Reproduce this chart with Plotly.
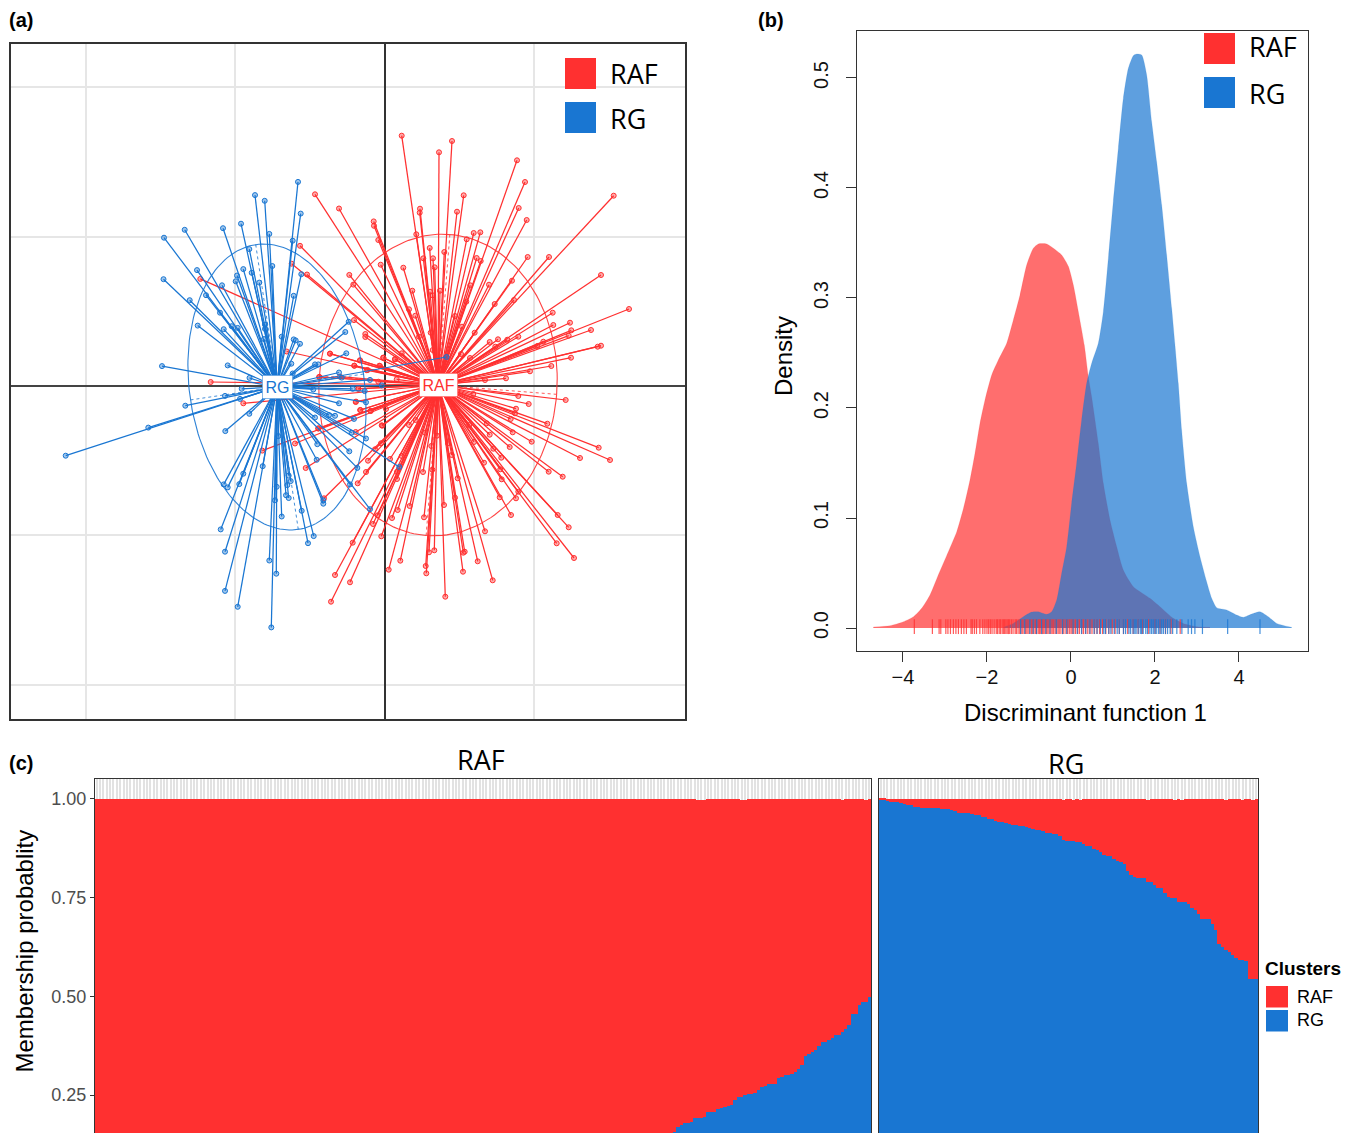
import numpy as np
import plotly.graph_objects as go

RED = "#FF3030"
BLUE = "#1976D2"
W, H = 1353, 1133
TXT = "Liberation Sans"
HUM = "Open Sans"

# ---------- panel (a): scores on the two discriminant axes ----------
rg_centre = [-107.5, -1.0]
raf_centre = [53.5, 1.0]
rg_x = [-318.8,-236.2,-199.2,-159.5,-142.8,-144.5,-222.5,-156.8,-135.0,-221.0,-186.8,-194.8,-220.5,-199.8,-187.5,-178.5,-162.5,-164.5,-160.8,-152.8,-146.8,-161.5,-143.5,-129.5,-119.8,-86.5,-83.8,-115.2,-91.8,-135.2,-112.2,-141.2,-132.8,-147.5,-148.8,-125.2,-83.2,-90.8,-119.5,-119.5,-120.5,-102.8,-90.8,-88.8,-84.5,-93.2,-91.8,-69.5,-66.2,-38.2,-39.2,-35.8,-45.5,-42.8,-14.5,-31.8,-19.8,-2.8,-18.5,-45.5,-71.2,-69.5,-55.5,-49.5,-30.5,-18.5,-32.8,-67.2,-35.2,-67.8,-27.2,-34.5,-14.5,-61.2,-61.2,-82.8,-70.8,-76.5,-95.8,-93.8,-97.2,-98.5,-95.8,-102.8,-107.8,-109.5,-106.2,-121.8,-141.2,-145.2,-156.8,-160.8,-163.8,-159.5,-159.5,-146.8,-115.2,-108.2,-113.2,-135.2,-159.2,14.8,62.0]
rg_y = [-69.7,-41.6,-19.7,-9.9,-2.8,-12.9,19.9,20.6,8.1,106.8,60.4,85.8,148.3,156.2,115.9,90.8,100.7,73.3,56.8,59.8,58.1,157.8,162.3,190.9,185.2,204.1,172.4,152.1,145.3,136.9,120.0,116.9,113.2,110.5,104.7,103.4,111.8,90.2,61.4,57.1,46.9,49.3,46.6,45.6,42.2,22.3,12.5,21.6,21.6,32.7,54.0,64.2,13.5,8.4,6.1,-2.8,-5.1,0.6,-16.3,-17.3,-3.5,-31.5,-29.1,-29.8,-32.9,-52.5,-46.7,-58.2,-65.3,-73.8,-81.9,-98.4,-123.2,-114.3,-117.7,-124.8,-150.1,-157.2,-89.7,-95.1,-99.1,-109.2,-112.0,-130.5,-100.8,-114.3,-50.1,-80.2,-87.7,-98.1,-101.4,-98.4,-143.4,-165.7,-204.9,-220.8,-174.5,-187.7,-241.4,-27.8,-45.1,-81.0,29.0]
raf_x = [17.2,67.5,54.5,132.5,140.5,229.2,79.2,134.2,72.5,35.5,35.2,142.2,89.2,95.8,31.8,82.2,45.2,59.8,143.2,164.5,38.8,48.5,92.2,96.2,50.2,18.8,216.5,127.5,104.5,85.8,27.8,45.5,55.5,48.2,129.5,81.8,110.2,244.5,24.5,30.8,70.5,168.2,168.8,185.5,186.8,206.5,184.2,77.5,90.2,46.2,34.5,105.2,113.5,122.8,133.8,110.8,158.8,152.8,216.5,213.2,186.5,166.8,145.5,121.5,100.5,76.5,85.5,48.2,17.2,10.5,-1.2,-4.5,12.2,-6.2,-16.8,-24.5,-30.2,-54.5,-65.2,-44.5,-26.2,-28.8,-24.2,-13.8,-2.2,-28.8,-66.2,-78.8,-60.5,-26.8,-18.5,-16.5,-9.5,-3.5,17.2,24.5,31.2,40.5,52.5,46.8,63.5,67.2,38.5,47.8,73.2,70.5,59.5,25.2,13.2,7.5,39.5,-6.8,-11.5,-3.2,-31.8,-49.5,-34.5,-53.5,4.2,15.8,41.2,41.8,44.5,49.8,60.8,78.8,80.2,78.5,93.2,108.2,100.5,126.5,115.2,131.5,133.8,117.2,115.8,99.5,116.8,108.8,89.5,125.2,105.2,128.2,102.2,84.8,147.2,126.2,130.5,131.5,162.8,144.2,133.8,88.8,181.2,214.2,225.5,195.5,164.2,178.2,173.2,184.2,172.2,189.5,-69.5,-45.5,-10.8,-10.5,-6.2,-3.8,-84.5,-92.8,-77.5,-35.2,-31.2,-30.5,-19.2,-19.2,-184.2,-54.5,-97.8,-30.2,-24.5,-5.2,-17.8,-1.2,10.5,-65.2,-173.8,-26.2,-141.2,-28.5,-24.2,-13.8,1.5,-2.8,-66.2,-89.5,-122.2,5.5,12.5,12.5]
raf_y = [250.3,245.0,233.7,225.7,204.0,190.3,190.7,178.0,174.3,177.3,173.3,166.0,153.0,153.7,151.7,146.7,138.0,134.0,129.0,129.0,127.7,127.7,128.0,125.0,118.7,118.3,111.0,105.3,101.3,100.7,95.3,94.3,95.3,90.7,86.0,84.3,82.0,77.0,76.7,70.3,70.0,73.3,61.0,63.3,55.7,56.0,50.3,59.3,53.3,53.3,49.3,44.0,46.7,46.3,49.3,39.3,44.3,40.0,40.3,39.3,28.3,20.0,14.7,7.7,6.0,32.0,28.0,36.0,32.7,27.0,28.3,20.0,6.7,4.3,16.0,25.7,20.3,32.3,9.0,9.3,-2.7,-16.0,-24.0,-25.0,-39.7,-46.0,-42.3,-82.0,-112.3,-97.3,-86.0,-74.7,-63.3,-57.3,-70.0,-39.0,-34.0,-46.7,-49.7,-60.0,-57.3,-69.0,-86.0,-83.7,-92.3,-111.7,-119.0,-120.0,-124.0,-132.0,-131.3,-129.3,-138.0,-150.3,-156.7,-189.0,-196.3,-215.7,-183.7,-174.7,-180.0,-187.3,-166.3,-164.3,-210.7,-166.7,-165.7,-185.7,-175.3,-194.3,-145.3,-129.0,-111.3,-112.3,-105.7,-93.3,-83.3,-76.7,-71.7,-62.7,-56.0,-61.0,-48.7,-46.3,-37.3,-39.0,-55.7,-33.0,-27.3,-22.7,-37.7,-18.0,-10.0,-8.0,-14.0,-61.7,-74.0,-72.0,-85.7,-90.7,-129.0,-141.3,-157.3,-172.0,191.7,177.5,164.6,160.2,146.0,121.3,140.2,122.3,111.5,111.1,101.4,65.9,52.0,49.0,107.1,32.4,34.5,20.3,25.6,20.3,15.8,28.4,26.6,9.1,4.0,-2.8,-17.3,-15.6,-24.1,-24.8,-23.0,-39.3,-42.6,-57.5,-64.6,-73.0,-85.9,-93.0]
# ellipse: semi-major, semi-minor, tilt of the major axis from vertical (degrees, + = top to the left)
rg_ellipse = [144.0, 87.5, 8.5]
raf_ellipse = [151.0, 119.0, -4.5]
a_xgrid = [-298.6, -149.3, 149.3]
a_ygrid = [-298.6, -149.3, 149.3, 298.6]

# ---------- panel (b): densities and rugs ----------
raf_dens_x = [-4.706,-4.31,-3.99,-3.75,-3.555,-3.357,-3.16,-2.92,-2.72,-2.56,-2.405,-2.286,-2.167,-2.048,-1.888,-1.73,-1.531,-1.373,-1.214,-1.055,-0.897,-0.778,-0.579,-0.42,-0.222,-0.063,0.056,0.175,0.317,0.413,0.492,0.65,0.77,0.929,1.088,1.246,1.484,1.881,2.119,2.436,2.674,2.992,3.31]
raf_dens_y = [0.0009,0.0021,0.0057,0.0103,0.0179,0.03,0.0482,0.0694,0.0876,0.1088,0.1345,0.1588,0.1861,0.2073,0.23,0.2436,0.2588,0.28,0.3027,0.33,0.3452,0.3491,0.3491,0.3452,0.3391,0.3288,0.3118,0.2876,0.2573,0.2285,0.2103,0.1679,0.1315,0.0982,0.0739,0.0527,0.0376,0.027,0.0194,0.0088,0.0042,0.0012,0.0006]
rg_dens_x = [-1.611,-1.373,-1.135,-0.936,-0.778,-0.579,-0.46,-0.34,-0.222,-0.102,0.016,0.135,0.254,0.373,0.492,0.65,0.77,0.889,1.007,1.127,1.246,1.365,1.484,1.564,1.683,1.802,1.921,2.04,2.16,2.278,2.398,2.476,2.555,2.635,2.755,2.912,3.071,3.23,3.35,3.469,3.707,3.945,4.102,4.302,4.5,4.698,4.898,5.255]
rg_dens_y = [0.0006,0.0042,0.0103,0.0145,0.0148,0.0124,0.0148,0.0255,0.0497,0.0739,0.1134,0.1497,0.1891,0.2224,0.2406,0.2588,0.2876,0.336,0.3876,0.4361,0.4815,0.5088,0.5203,0.5218,0.5209,0.5027,0.4603,0.4239,0.3845,0.3391,0.2906,0.2573,0.2224,0.18,0.1315,0.0921,0.0648,0.0421,0.027,0.0185,0.0164,0.0118,0.0097,0.0127,0.0148,0.0103,0.0042,0.0006]
raf_rug = [-3.73,-3.30,-3.14,-3.10,-2.98,-2.93,-2.87,-2.80,-2.74,-2.68,-2.61,-2.55,-2.49,-2.38,-2.35,-2.30,-2.25,-2.17,-2.10,-2.05,-2.00,-1.96,-1.92,-1.88,-1.83,-1.78,-1.75,-1.71,-1.68,-1.64,-1.61,-1.58,-1.55,-1.52,-1.49,-1.46,-1.42,-1.38,-1.33,-1.30,-1.26,-1.22,-1.19,-1.16,-1.12,-1.08,-1.05,-1.02,-0.98,-0.94,-0.91,-0.88,-0.84,-0.82,-0.78,-0.75,-0.72,-0.68,-0.65,-0.62,-0.58,-0.55,-0.52,-0.48,-0.45,-0.42,-0.38,-0.35,-0.31,-0.28,-0.24,-0.2,-0.17,-0.12,-0.08,-0.04,0.0,0.03,0.07,0.11,0.16,0.2,0.26,0.3,0.35,0.4,0.45,0.5,0.56,0.62,0.68,0.75,0.83,0.9,0.98,1.05,1.15,1.25,1.35,1.48,1.6,1.7,1.85,2.0,2.12,2.25,2.38,2.6]
rg_rug = [-1.2,-1.1,-0.98,-0.9,-0.82,-0.7,-0.6,-0.5,-0.35,-0.2,-0.1,0.05,0.15,0.25,0.35,0.45,0.55,0.62,0.7,0.78,0.82,0.9,0.95,1.03,1.1,1.15,1.25,1.3,1.38,1.42,1.48,1.52,1.55,1.6,1.65,1.68,1.72,1.78,1.82,1.88,1.92,1.96,2.0,2.03,2.08,2.12,2.16,2.2,2.25,2.3,2.36,2.42,2.52,2.64,2.79,2.87,2.95,3.13,3.73,4.5]
b_xticks = [-4, -2, 0, 2, 4]
b_yticks = [0.0, 0.1, 0.2, 0.3, 0.4, 0.5]

# ---------- panel (c): membership probability of cluster RG per individual ----------
raf_group_rg = [
 0.000,
 0.000,0.000,0.000,0.000,0.000,0.000,0.000,0.000,0.000,0.000,
 0.001,0.001,0.001,0.001,0.001,0.001,0.001,0.001,0.001,0.001,
 0.002,0.002,0.002,0.002,0.002,0.002,0.003,0.003,0.003,0.003,
 0.004,0.004,0.004,0.005,0.005,0.005,0.006,0.006,0.006,0.007,
 0.007,0.008,0.008,0.009,0.009,0.010,0.010,0.011,0.011,0.012,
 0.013,0.013,0.014,0.015,0.015,0.016,0.017,0.018,0.018,0.019,
 0.020,0.021,0.022,0.023,0.024,0.025,0.026,0.027,0.028,0.029,
 0.030,0.031,0.032,0.033,0.034,0.036,0.037,0.038,0.039,0.040,
 0.042,0.043,0.044,0.046,0.047,0.048,0.050,0.051,0.053,0.054,
 0.056,0.057,0.058,0.060,0.061,0.063,0.064,0.066,0.067,0.069,
 0.070,0.072,0.073,0.075,0.076,0.078,0.079,0.081,0.082,0.084,
 0.085,0.087,0.088,0.090,0.091,0.093,0.094,0.096,0.097,0.099,
 0.100,0.101,0.103,0.104,0.105,0.107,0.108,0.109,0.111,0.112,
 0.114,0.115,0.116,0.118,0.119,0.120,0.121,0.122,0.123,0.125,
 0.126,0.127,0.128,0.129,0.130,0.131,0.132,0.134,0.135,0.136,
 0.137,0.138,0.139,0.140,0.141,0.142,0.143,0.144,0.145,0.146,
 0.147,0.148,0.149,0.150,0.150,0.151,0.152,0.153,0.153,0.154,
 0.155,
 0.1557,0.1684,0.1734,0.1785,0.1785,0.1818,0.1919,0.1919,0.1919,0.1936,
 0.2071,0.2071,0.2071,0.2138,0.2172,0.2197,0.2222,0.2247,0.2374,0.2441,
 0.2441,0.2492,0.2525,0.2525,0.2542,0.2635,0.2694,0.2736,0.2778,0.2778,
 0.2786,0.2929,0.2946,0.2997,0.2997,0.3030,0.3081,0.3148,0.3249,0.3485,
 0.3552,0.3594,0.3636,0.3754,0.3838,0.3838,0.3906,0.3939,0.4015,0.4015,
 0.4091,0.4167,0.4268,0.4545,0.4562,0.4789,0.4848,0.4865,0.4975]
raf_short_bars = [179, 180, 181, 192, 193, 222, 229]
rg_group_rg = [
 0.9983,0.9983,0.9941,0.9924,0.9924,0.9924,0.9891,0.9874,0.9840,0.9840,
 0.9798,0.9798,0.9773,0.9773,0.9773,0.9773,0.9773,0.9773,0.9739,0.9739,
 0.9739,0.9714,0.9689,0.9647,0.9647,0.9647,0.9647,0.9621,0.9588,0.9588,
 0.9537,0.9537,0.9495,0.9495,0.9445,0.9419,0.9419,0.9394,0.9369,0.9335,
 0.9335,0.9318,0.9318,0.9285,0.9268,0.9234,0.9217,0.9217,0.9184,0.9133,
 0.9133,0.9116,0.9116,0.9066,
 0.8956,0.8939,0.8939,0.8939,0.8914,0.8914,0.8855,0.8796,0.8796,0.8737,
 0.8704,0.8645,0.8586,0.8561,0.8561,0.8476,0.8426,0.8401,0.8350,0.8182,
 0.8081,0.8030,0.7988,0.7988,0.7988,0.7896,0.7896,0.7820,0.7744,0.7744,
 0.7609,0.7517,0.7492,0.7492,0.7399,0.7399,0.7399,0.7324,0.7239,0.7172,
 0.7071,0.6944,0.6944,0.6944,0.6835,0.6667,0.6322,0.6246,0.6162,0.6111,
 0.6035,0.5968,0.5909,0.5909,0.5884,0.5429,0.5429,0.5429]
rg_short_bars = [54, 57, 59, 79, 87, 89, 102, 107, 110]
c_yticks = [0.25, 0.50, 0.75, 1.00]
c_ylabels = ["0.25", "0.50", "0.75", "1.00"]
c_yrange = [0.154, 1.05]


def fx(p):
    return p / W


def fy(p):
    return 1 - p / H


def star(centre, xs, ys):
    lx, ly = [], []
    for x, y in zip(xs, ys):
        lx += [centre[0], x, None]
        ly += [centre[1], y, None]
    return lx, ly


def ellipse(centre, params):
    a, b, tilt = params
    t = np.radians(tilt)
    s = np.linspace(0, 2 * np.pi, 181)
    u, v = b * np.cos(s), a * np.sin(s)
    return centre[0] + u * np.cos(t) - v * np.sin(t), centre[1] + u * np.sin(t) + v * np.cos(t)


def ellipse_axes(centre, params):
    a, b, tilt = params
    t = np.radians(tilt)
    return ([centre[0] - a * np.sin(t), centre[0], None, centre[0] - b * np.cos(t), centre[0]],
            [centre[1] + a * np.cos(t), centre[1], None, centre[1] - b * np.sin(t), centre[1]],
            [centre[0] + a * np.sin(t), centre[0], None, centre[0] + b * np.cos(t), centre[0]],
            [centre[1] - a * np.cos(t), centre[1], None, centre[1] + b * np.sin(t), centre[1]])


def rug(xs, low=-0.0055, high=0.008):
    lx, ly = [], []
    for x in xs:
        lx += [x, x, None]
        ly += [low, high, None]
    return lx, ly


fig = go.Figure()

# panel a
for name, col, fillc, centre, xs, ys, ep in [
    ("RAF", RED, "rgba(255,48,48,0.4)", raf_centre, raf_x, raf_y, raf_ellipse),
    ("RG", BLUE, "rgba(25,118,210,0.4)", rg_centre, rg_x, rg_y, rg_ellipse),
]:
    lx, ly = star(centre, xs, ys)
    fig.add_trace(go.Scatter(x=lx, y=ly, mode="lines", line=dict(color=col, width=1.25),
                             xaxis="x", yaxis="y", name=name, hoverinfo="skip"))
    ex, ey = ellipse(centre, ep)
    fig.add_trace(go.Scatter(x=ex, y=ey, mode="lines", line=dict(color=col, width=1.1), opacity=0.9,
                             xaxis="x", yaxis="y", hoverinfo="skip"))
    a1x, a1y, a2x, a2y = ellipse_axes(centre, ep)
    fig.add_trace(go.Scatter(x=a1x + [None] + a2x, y=a1y + [None] + a2y, mode="lines",
                             line=dict(color=col, width=1, dash="3px,3px"), opacity=0.8,
                             xaxis="x", yaxis="y", hoverinfo="skip"))
    fig.add_trace(go.Scatter(x=xs, y=ys, mode="markers",
                             marker=dict(size=5, color=fillc, line=dict(color=col, width=1)),
                             xaxis="x", yaxis="y", name=name))

# panel b
fig.add_trace(go.Scatter(x=raf_dens_x, y=raf_dens_y, mode="lines", fill="tozeroy",
                         line=dict(color="rgba(255,48,48,0.3)", width=0.5, shape="spline", smoothing=0.6),
                         fillcolor="rgba(255,48,48,0.7)", xaxis="x2", yaxis="y2", name="RAF"))
fig.add_trace(go.Scatter(x=rg_dens_x, y=rg_dens_y, mode="lines", fill="tozeroy",
                         line=dict(color="rgba(25,118,210,0.3)", width=0.5, shape="spline", smoothing=0.6),
                         fillcolor="rgba(25,118,210,0.7)", xaxis="x2", yaxis="y2", name="RG"))
for xs, col in [(raf_rug, "rgba(255,48,48,0.8)"), (rg_rug, "rgba(25,118,210,0.8)")]:
    lx, ly = rug(xs)
    fig.add_trace(go.Scatter(x=lx, y=ly, mode="lines", line=dict(color=col, width=1.2),
                             xaxis="x2", yaxis="y2", hoverinfo="skip"))

# panel c
for values, short, xa, ya in [(raf_group_rg, raf_short_bars, "x3", "y3"),
                              (rg_group_rg, rg_short_bars, "x4", "y4")]:
    idx = list(range(len(values)))
    red = [1 - v - (0.0028 if i in short else 0) for i, v in enumerate(values)]
    fig.add_trace(go.Bar(x=idx, y=values, marker=dict(color=BLUE, line=dict(width=0)),
                         xaxis=xa, yaxis=ya, name="RG"))
    fig.add_trace(go.Bar(x=idx, y=red, marker=dict(color=RED, line=dict(width=0)),
                         xaxis=xa, yaxis=ya, name="RAF"))

shapes = []
ann = []


def label(x, y, text, size, font=TXT, color="#000", bold=False, anchor="left", angle=0):
    ann.append(dict(xref="paper", yref="paper", x=fx(x), y=fy(y), text=f"<b>{text}</b>" if bold else text,
                    showarrow=False, xanchor=anchor, yanchor="middle", textangle=angle,
                    font=dict(size=size, family=font, color=color)))


def swatch(x0, x1, y0, y1, color):
    shapes.append(dict(type="rect", xref="paper", yref="paper", x0=fx(x0), x1=fx(x1),
                       y0=fy(y0), y1=fy(y1), fillcolor=color, line=dict(width=0), layer="above"))


label(7, 20, "(a)", 20, bold=True)
label(756, 20, "(b)", 20, bold=True)
label(7, 763, "(c)", 20, bold=True)

swatch(565, 596, 58, 89, RED)
swatch(565, 596, 102, 133, BLUE)
label(608, 73, "RAF", 27, HUM)
label(608, 118.5, "RG", 27, HUM)
swatch(1204, 1235, 33, 64, RED)
swatch(1204, 1235, 77, 108, BLUE)
label(1247, 47, "RAF", 27, HUM)
label(1247, 93, "RG", 27, HUM)

label(481, 759, "RAF", 27, HUM, anchor="center")
label(1066, 763, "RG", 27, HUM, anchor="center")
label(1263, 968, "Clusters", 19, bold=True)
swatch(1266, 1288, 986, 1007.5, RED)
swatch(1266, 1288, 1010, 1031.5, BLUE)
label(1295, 997, "RAF", 18)
label(1295, 1020, "RG", 18)

label(1085, 712, "Discriminant function 1", 24, anchor="center")
label(783, 356, "Density", 24, anchor="center", angle=-90)
label(24, 951.5, "Membership probablity", 24, anchor="center", angle=-90)

for name, col, c in [("RG", BLUE, rg_centre), ("RAF", RED, raf_centre)]:
    ann.append(dict(xref="x", yref="y", x=c[0], y=c[1], text=name, showarrow=False,
                    bgcolor="white", bordercolor=col, borderwidth=0.5, borderpad=3,
                    font=dict(size=16, family=TXT, color=col)))

box = dict(showline=True, mirror=True, linecolor="#333", linewidth=1.4, zeroline=False)
fig.update_layout(
    width=W, height=H, margin=dict(l=0, r=0, t=0, b=0), autosize=False,
    paper_bgcolor="white", plot_bgcolor="white", showlegend=False,
    barmode="stack", bargap=0, shapes=shapes, annotations=ann,
    xaxis=dict(domain=[fx(11), fx(685)], range=[-373.5, 300.5], tickvals=a_xgrid, showticklabels=False,
               ticks="", showgrid=True, gridcolor="#E6E6E6", gridwidth=1.5, anchor="y",
               showline=True, mirror=True, linecolor="#333", linewidth=1.6,
               zeroline=True, zerolinecolor="#333", zerolinewidth=1.5),
    yaxis=dict(domain=[fy(719), fy(44)], range=[-333, 342], tickvals=a_ygrid, showticklabels=False,
               ticks="", showgrid=True, gridcolor="#E6E6E6", gridwidth=1.5, anchor="x",
               showline=True, mirror=True, linecolor="#333", linewidth=1.6,
               zeroline=True, zerolinecolor="#444", zerolinewidth=1.5),
    xaxis2=dict(domain=[fx(857), fx(1308)], range=[-5.095, 5.643], tickvals=b_xticks, ticks="outside",
                ticklen=10, tickcolor="#333", showgrid=False, anchor="y2", ticklabelstandoff=-2,
                tickfont=dict(size=20, family=TXT, color="#111"), **box),
    yaxis2=dict(domain=[fy(651), fy(31)], range=[-0.0209, 0.5427], tickvals=b_yticks, ticks="outside",
                ticklen=10, tickcolor="#333", tickangle=-90, tickformat=".1f", showgrid=False, anchor="x2",
                ticklabelstandoff=10, tickfont=dict(size=20, family=TXT, color="#111"), **box),
    xaxis3=dict(domain=[fx(95), fx(871)], range=[-0.5, len(raf_group_rg) - 0.5],
                tickvals=list(range(len(raf_group_rg))), showticklabels=False, ticks="",
                showgrid=True, gridcolor="#E2E2E2", gridwidth=1.5, anchor="y3",
                showline=True, mirror=True, linecolor="#333", linewidth=1.2, zeroline=False),
    yaxis3=dict(domain=[0, fy(779)], range=c_yrange, tickvals=c_yticks, ticktext=c_ylabels, ticks="outside",
                ticklen=4, tickcolor="#333", showgrid=False, anchor="x3",
                tickfont=dict(size=18, family=TXT, color="#4D4D4D"),
                showline=True, mirror=True, linecolor="#333", linewidth=1.2, zeroline=False),
    xaxis4=dict(domain=[fx(879), fx(1258)], range=[-0.5, len(rg_group_rg) - 0.5],
                tickvals=list(range(len(rg_group_rg))), showticklabels=False, ticks="",
                showgrid=True, gridcolor="#E2E2E2", gridwidth=1.5, anchor="y4",
                showline=True, mirror=True, linecolor="#333", linewidth=1.2, zeroline=False),
    yaxis4=dict(domain=[0, fy(779)], range=c_yrange, showticklabels=False, ticks="", showgrid=False,
                anchor="x4", showline=True, mirror=True, linecolor="#333", linewidth=1.2, zeroline=False),
)

fig.write_html("out.html", config={"displayModeBar": False},
               post_script="document.body.style.margin='0';document.body.style.overflow='hidden';")
